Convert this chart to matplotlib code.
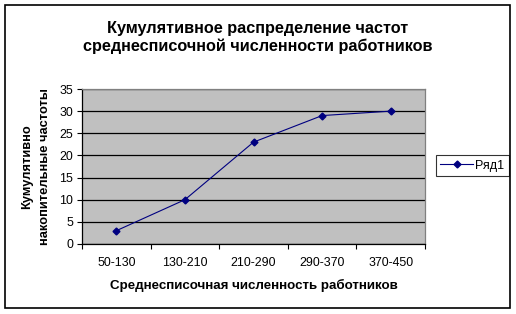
import matplotlib.pyplot as plt
from matplotlib.patches import Rectangle

categories = ['50-130', '130-210', '210-290', '290-370', '370-450']
cum_freq = [3, 10, 23, 29, 30]
series_name = 'Ряд1'

plt.rcParams['font.family'] = ['Liberation Sans', 'DejaVu Sans']

fig = plt.figure(figsize=(5.16, 3.14), dpi=100)
fig.patch.set_facecolor('white')
# frame around the whole chart
fig.add_artist(Rectangle((5/516, 1 - 308/314), 505/516, 303/314, transform=fig.transFigure,
                         fill=False, edgecolor='black', linewidth=1.2))

ax = fig.add_axes([82/516, 1 - 244/314, 343/516, 155/314])
ax.set_facecolor('#c0c0c0')

x = list(range(len(categories)))
ax.plot(x, cum_freq, color='#000080', linewidth=0.8, marker='D', markersize=3.5,
        label=series_name)

ax.set_xlim(-0.5, len(categories) - 0.5)
ax.set_ylim(0, 35)
ax.set_yticks(range(0, 36, 5))
ax.yaxis.grid(True, color='black', linewidth=0.9)
ax.set_axisbelow(True)

ax.set_xticks(x)
ax.set_xticklabels(categories, fontsize=8.9)
ax.set_xticks([i - 0.5 for i in range(len(categories) + 1)], minor=True)
ax.tick_params(axis='x', which='major', length=0, pad=9)
ax.tick_params(axis='x', which='minor', length=3.5, direction='out', width=0.8)
ax.tick_params(axis='y', length=3.5, direction='out', labelsize=8.9, pad=3, width=0.8)

for side in ['top', 'right']:
    ax.spines[side].set_color('#808080')
    ax.spines[side].set_linewidth(0.9)
for side in ['left', 'bottom']:
    ax.spines[side].set_color('black')
    ax.spines[side].set_linewidth(0.9)

fig.text(253.5/516, 1 - 285/314, 'Среднесписочная численность работников',
         ha='center', va='center', fontsize=9.6, fontweight='bold')
fig.text(36/516, 1 - 167/314, 'Кумулятивно\nнакопительные частоты', rotation=90,
         ha='center', va='center', fontsize=9.3, fontweight='bold', linespacing=1.7)

fig.text(258/516, 1 - 37.5/314, 'Кумулятивное распределение частот\nсреднесписочной численности работников',
         ha='center', va='center', fontsize=11.7, fontweight='bold', linespacing=1.25)

leg = ax.legend(loc='center left', bbox_to_anchor=(436/516, 1 - 165.5/314),
                bbox_transform=fig.transFigure, fontsize=9, frameon=True, fancybox=False,
                handlelength=2.6, borderpad=0.35, handletextpad=0.2, borderaxespad=0)
leg.get_frame().set_edgecolor('black')
leg.get_frame().set_linewidth(0.8)

fig.savefig('out.png', dpi=100)
